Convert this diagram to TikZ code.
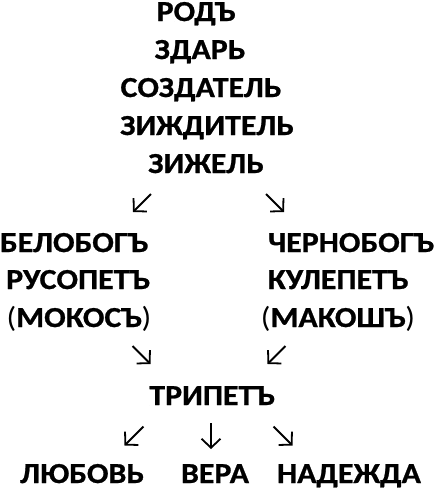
\documentclass[tikz,border=0pt]{standalone}
\usepackage{fontspec}
\setmainfont{Carlito}[FakeStretch=1.1, BoldFeatures={FakeBold=0.8}]
\usetikzlibrary{positioning, arrows.meta, calc}
\tikzset{
  word/.style={font=\fontsize{29}{29}\selectfont\bfseries, anchor=base, inner sep=0pt},
  arr/.style={line width=1.8pt, -{Straight Barb[length=9pt, width=19pt, line width=1.8pt]}}
}
\newcommand{\lp}{\textmd{(}}
\newcommand{\rp}{\textmd{)}}
% arrow glyph: name, centre, dx, dy
\newcommand{\arrw}[4]{%
  \coordinate (#1s) at ($(#2)-(#3,#4)$);
  \coordinate (#1e) at ($(#2)+(#3,#4)$);
  \draw[arr] (#1s) -- (#1e);}

\begin{document}
\begin{tikzpicture}[x=1pt,y=-1pt]
\useasboundingbox (0,0) rectangle (434,491);
% top column
\node[word] (rod) at (196,21) {РОДЪ};
\node[word] (zdar) at (200,59) {ЗДАРЬ};
\node[word] (sozd) at (201,97) {СОЗДАТЕЛЬ};
\node[word] (zizhd) at (207,135) {ЗИЖДИТЕЛЬ};
\node[word] (zizh) at (206,173) {ЗИЖЕЛЬ};
\arrw{a1}{142,203}{-9}{9}
\arrw{a2}{275,203}{9}{9}
% two sides
\node[word] (belo) at (74,252) {БЕЛОБОГЪ};
\node[word] (ruso) at (78,289) {РУСОПЕТЪ};
\node[word] (moko) at (79,327) {\lp МОКОСЪ\rp};
\node[word] (cherno) at (351,252) {ЧЕРНОБОГЪ};
\node[word] (kule) at (338,289) {КУЛЕПЕТЪ};
\node[word] (mako) at (338,327) {\lp МАКОШЪ\rp};
\arrw{a3}{141.5,355}{9}{9}
\arrw{a4}{276.5,355}{-9}{9}
\node[word] (tri) at (212,405) {ТРИПЕТЪ};
\arrw{a5}{134,436}{-9.5}{9.5}
\arrw{a6}{211,436}{0}{13}
\arrw{a7}{283,436}{9.5}{9.5}
% bottom row
\node[word] (lub) at (82,483) {ЛЮБОВЬ};
\node[word] (vera) at (215,483) {ВЕРА};
\node[word] (nad) at (349,483) {НАДЕЖДА};
\end{tikzpicture}
\end{document}
